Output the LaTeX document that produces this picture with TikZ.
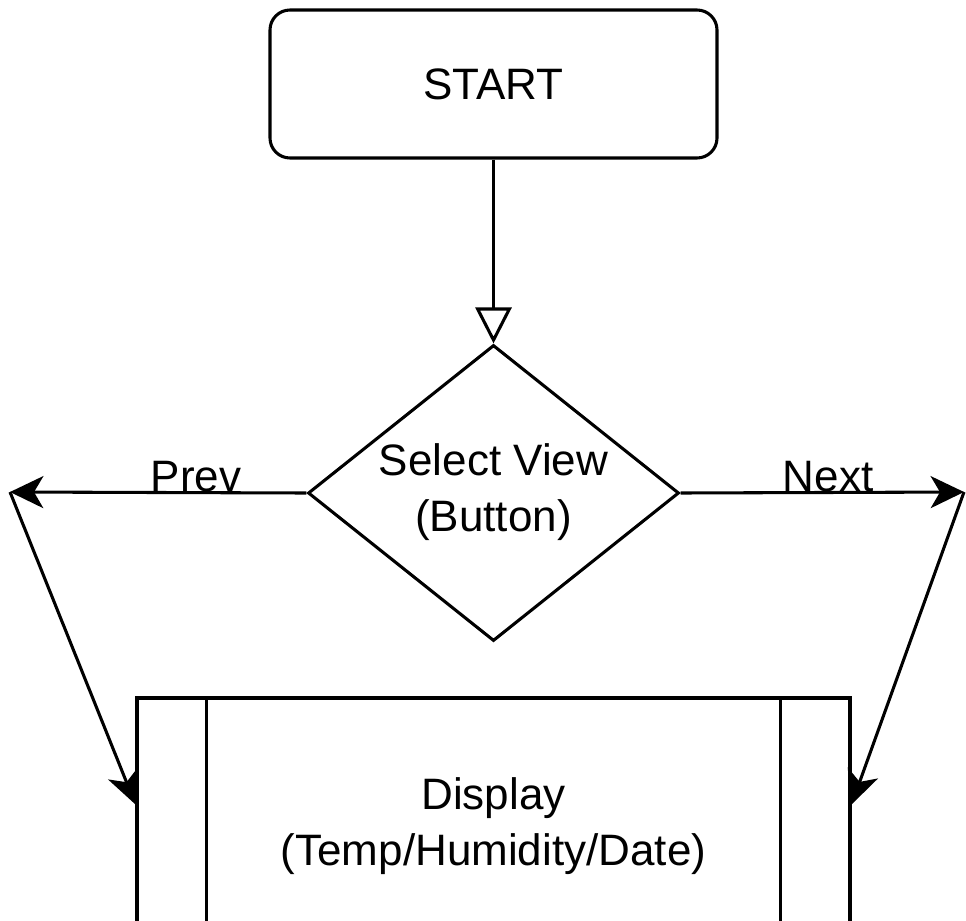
\documentclass[tikz,border=0pt]{standalone}
\usepackage{fontspec}
\setmainfont{Liberation Sans}
\usetikzlibrary{arrows.meta,shapes.geometric}
\begin{document}
\begin{tikzpicture}[x=0.75pt,y=-0.75pt,
  every node/.style={font=\fontsize{33pt}{42pt}\selectfont},
  line/.style={line width=2.3pt,line join=miter},
  box/.style={line,draw,inner sep=0pt,align=center},
  arr/.style={line,-{Stealth[length=25pt,width=24pt,inset=7pt]}},
  openarr/.style={line,-{Triangle[open,fill=white,length=27pt,width=27pt]}},
  lbl/.style={anchor=base,inner sep=0pt}]
  \clip (0,0) rectangle (966,920);
  % start terminal
  \node[box,rounded corners=15pt,minimum width=335.25pt,minimum height=111pt]
    (start) at (493.5,84) {START};
  % decision
  \node[box,diamond,shape aspect=1.253,minimum width=278.25pt,minimum height=222pt]
    (sel) at (493.5,493) {};
  \node (seltxt) at (493.5,492) [align=center,inner sep=0pt] {Select View\\(Button)};
  % display (predefined process)
  \node[box,minimum width=534.75pt,minimum height=190.5pt]
    (disp) at (493.5,825) {};
  \draw[line] ([xshift=53.25pt]disp.north west) -- ([xshift=53.25pt]disp.south west);
  \draw[line] ([xshift=-53.25pt]disp.north east) -- ([xshift=-53.25pt]disp.south east);
  \node (disptxt) at (493.5,826) [align=center,inner sep=0pt] {Display\\(Temp/Humidity/Date)};
  % turning points at the sides
  \coordinate (pl) at (10,492);
  \coordinate (nr) at (964,492);
  \coordinate (inL) at ([yshift=-81pt]disp.north west);
  \coordinate (inR) at ([yshift=-81pt]disp.north east);
  % connectors
  \draw[openarr] (start.south) -- (sel.north);
  \draw[arr] (sel.west) -- (pl);
  \draw[arr] (sel.east) -- (nr);
  \draw[arr] (pl) -- (inL);
  \draw[arr] (nr) -- (inR);
  % edge labels
  \node[lbl] (prev) at (196,491) {Prev};
  \node[lbl] (next) at (828,491) {Next};
\end{tikzpicture}
\end{document}
